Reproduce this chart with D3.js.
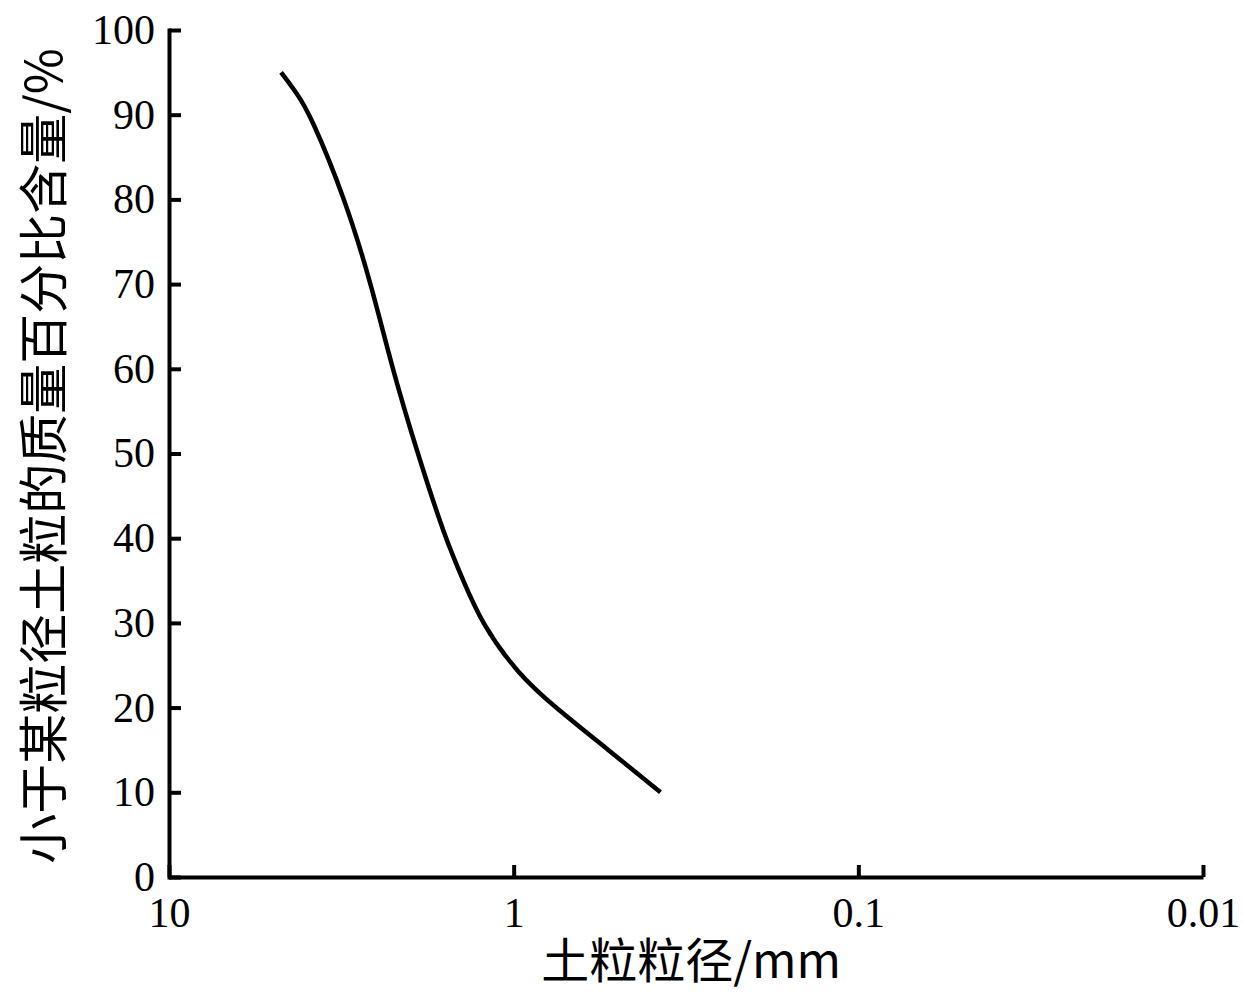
<!DOCTYPE html>
<html>
<head>
<meta charset="utf-8">
<script src="https://d3js.org/d3.v7.min.js"></script>
<style>
body, html { margin: 0; background: #fff; }
.tick text { font-family: "Liberation Serif", "Times New Roman", serif; font-size: 42px; fill: #000; }
.axis path, .axis line { stroke: #000; stroke-width: 4; }
.title { font-family: "Noto Sans CJK SC", "Liberation Serif", serif; font-size: 50px; fill: #000; }
</style>
</head>
<body>
<div id="chart"></div>
<script>
// particle size (mm) and cumulative percent finer
var sizes   = [4.73, 4.25, 3.89, 3.08, 2.59, 2.25, 1.90, 1.58, 1.40, 1.24, 0.974, 0.757, 0.531, 0.375];
var percent = [95, 92.5, 90, 80, 70, 60, 50, 40, 35, 30, 24, 20, 15, 10];
var xTicks = [10, 1, 0.1, 0.01];
var xTickLabels = ["10", "1", "0.1", "0.01"];
var yTicks = [0, 10, 20, 30, 40, 50, 60, 70, 80, 90, 100];

var width = 1243, height = 992;
var margin = {left: 169, right: 40, top: 30, bottom: 115};

var svg = d3.select("#chart").append("svg")
  .attr("width", width)
  .attr("height", height);

var x = d3.scaleLog()
  .domain([10, 0.01])
  .range([margin.left, width - margin.right]);

var y = d3.scaleLinear()
  .domain([0, 100])
  .range([height - margin.bottom, margin.top]);

var xAxis = svg.append("g")
  .attr("class", "axis")
  .attr("transform", "translate(0," + y(0) + ")")
  .call(d3.axisBottom(x).tickValues(xTicks)
    .tickFormat(function(d, i) { return xTickLabels[i]; })
    .tickSizeInner(-12).tickSizeOuter(0).tickPadding(20));
xAxis.selectAll(".tick text").attr("dy", "0.71em");

var yAxis = svg.append("g")
  .attr("class", "axis")
  .attr("transform", "translate(" + x(10) + ",0)")
  .call(d3.axisLeft(y).tickValues(yTicks)
    .tickSizeInner(-12).tickSizeOuter(0).tickPadding(14));
yAxis.select(".domain").attr("stroke-linecap", "square");

var pts = sizes.map(function(s, i) { return [s, percent[i]]; });
var line = d3.line()
  .x(function(d) { return x(d[0]); })
  .y(function(d) { return y(d[1]); })
  .curve(d3.curveBasis);

svg.append("path")
  .datum(pts)
  .attr("fill", "none")
  .attr("stroke", "#000")
  .attr("stroke-width", 4.5)
  .attr("d", line);

// axis titles
svg.append("text")
  .attr("class", "title")
  .attr("x", 691)
  .attr("y", 978)
  .attr("text-anchor", "middle")
  .style("font-size", "48px")
  .text("土粒粒径/mm");

svg.append("text")
  .attr("class", "title")
  .attr("transform", "translate(62," + 456 + ") rotate(-90)")
  .attr("text-anchor", "middle")
  .text("小于某粒径土粒的质量百分比含量/%");
</script>
</body>
</html>
